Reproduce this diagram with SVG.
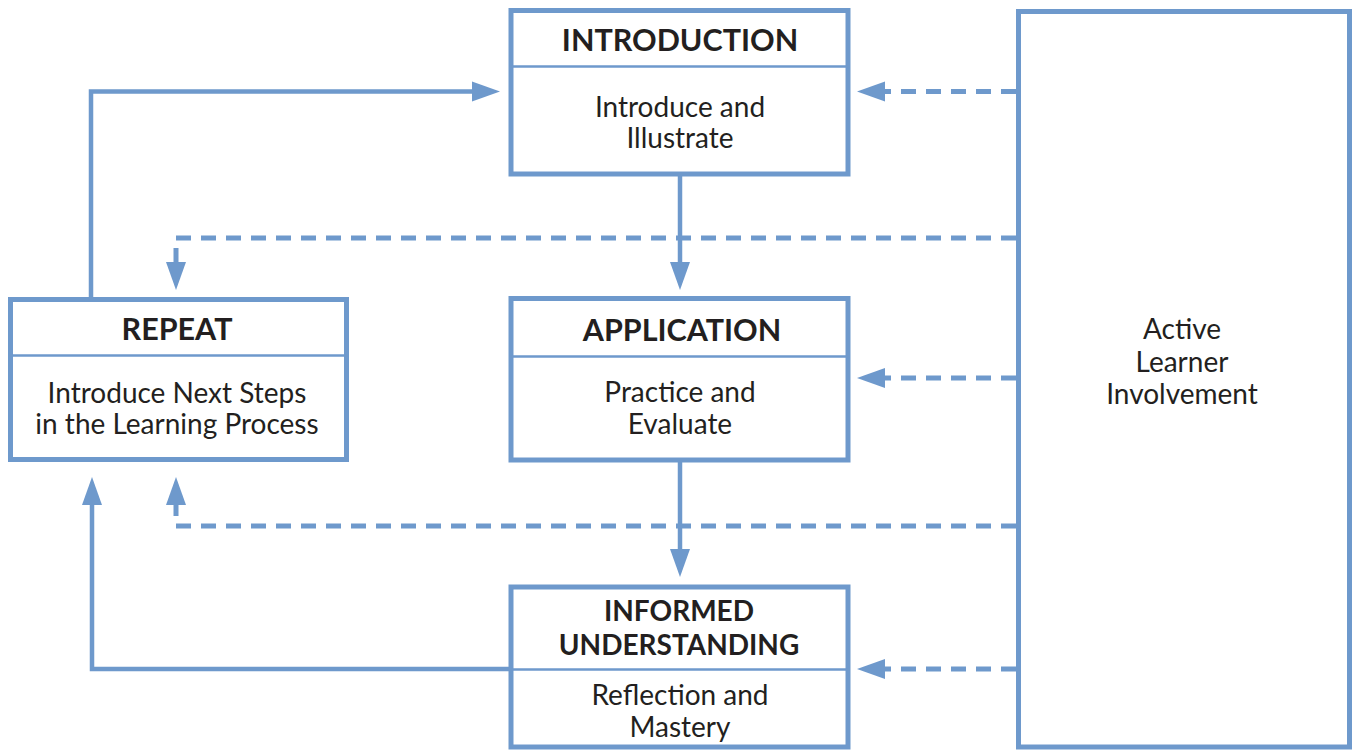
<svg xmlns="http://www.w3.org/2000/svg" width="1353" height="750" viewBox="0 0 1353 750">
<style>
.box{fill:#fff;stroke:#6e99cc;stroke-width:5}
.div{stroke:#6e99cc;stroke-width:2.5;fill:none}
.t{font-family:Lato,"Liberation Sans",sans-serif;font-weight:bold;font-size:30.5px;fill:#231f20;text-anchor:middle}
.t2{font-size:28px}
.b{font-family:Lato,"Liberation Sans",sans-serif;font-size:28px;fill:#231f20;text-anchor:middle}
.s{fill:none;stroke:#6e99cc;stroke-width:4.5}
.d{fill:none;stroke:#6e99cc;stroke-width:5;stroke-dasharray:15 10}
</style>
<defs>
<marker id="ah" markerUnits="userSpaceOnUse" markerWidth="28" markerHeight="20" refX="0" refY="10" orient="auto" overflow="visible">
<path d="M0,0 L28,10 L0,20 Z" fill="#6e99cc"/>
</marker>
</defs>
<rect width="1353" height="750" fill="#fff"/>
<g id="connectors">
<path class="s" d="M91,297 V91.5 H472" marker-end="url(#ah)"/>
<path class="s" d="M680,176 V262" marker-end="url(#ah)"/>
<path class="s" d="M680,462 V549" marker-end="url(#ah)"/>
<path class="s" d="M509,669 H92 V505" marker-end="url(#ah)"/>
<path class="d" d="M1016,91.5 H885" marker-end="url(#ah)"/>
<path class="d" d="M1016,238 H176 V262" marker-end="url(#ah)"/>
<path class="d" d="M1016,378 H885" marker-end="url(#ah)"/>
<path class="d" d="M1016,526 H176 V505" marker-end="url(#ah)"/>
<path class="d" d="M1016,669 H885" marker-end="url(#ah)"/>
</g>
<g id="introduction">
<rect class="box" x="511" y="10.5" width="337" height="163.5"/>
<line class="div" x1="511" y1="66.5" x2="848" y2="66.5"/>
<text class="t" x="680" y="51">INTRODUCTION</text>
<text class="b" x="680" y="117">Introduce and</text>
<text class="b" x="680" y="148">Illustrate</text>
</g>
<g id="repeat">
<rect class="box" x="10.5" y="299.5" width="336" height="160"/>
<line class="div" x1="10.5" y1="355.5" x2="346.5" y2="355.5"/>
<text class="t" x="177" y="340">REPEAT</text>
<text class="b" x="177" y="403">Introduce Next Steps</text>
<text class="b" x="177" y="434">in the Learning Process</text>
</g>
<g id="application">
<rect class="box" x="511" y="298.5" width="337" height="161.5"/>
<line class="div" x1="511" y1="356.5" x2="848" y2="356.5"/>
<text class="t" x="682" y="341">APPLICATION</text>
<text class="b" x="680" y="402">Practice and</text>
<text class="b" x="680" y="434">Evaluate</text>
</g>
<g id="informed">
<rect class="box" x="511" y="587" width="337" height="160"/>
<line class="div" x1="511" y1="669.5" x2="848" y2="669.5"/>
<text class="t t2" x="679" y="621">INFORMED</text>
<text class="t t2" x="679" y="655">UNDERSTANDING</text>
<text class="b" x="680" y="705">Reflection and</text>
<text class="b" x="680" y="737">Mastery</text>
</g>
<g id="active">
<rect class="box" x="1018.5" y="11.5" width="331" height="735.5"/>
<text class="b" x="1182" y="339">Active</text>
<text class="b" x="1182" y="372">Learner</text>
<text class="b" x="1182" y="404">Involvement</text>
</g>
</svg>
